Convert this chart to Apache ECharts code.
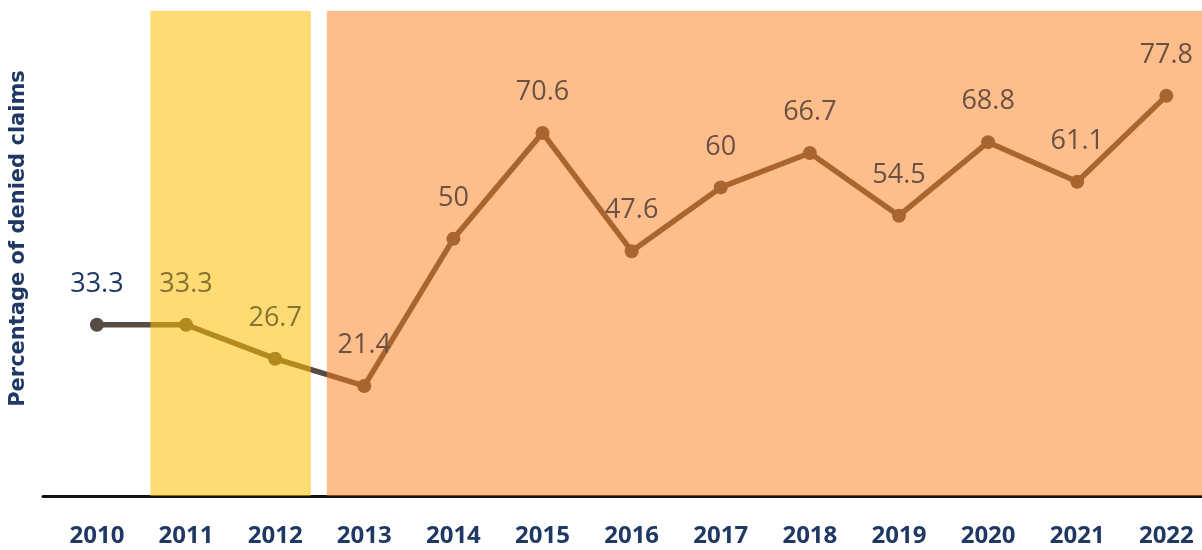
<!DOCTYPE html>
<html>
<head>
<meta charset="utf-8">
<script src="https://cdn.jsdelivr.net/npm/echarts@6/dist/echarts.min.js"></script>
<style>
  html, body { margin: 0; padding: 0; background: #ffffff; }
  #chart { width: 1202px; height: 550px; }
</style>
</head>
<body>
<div id="chart"></div>
<script>
// Years on the horizontal axis
const years = ['2010', '2011', '2012', '2013', '2014', '2015', '2016',
               '2017', '2018', '2019', '2020', '2021', '2022'];
// Share of claims that were denied, per year (%)
const deniedPct = [33.3, 33.3, 26.7, 21.4, 50, 70.6, 47.6, 60, 66.7, 54.5, 68.8, 61.1, 77.8];
// Shaded periods, expressed in year-index units along the x axis
const periodEarly = [0.6, 2.4];
const periodLate = [2.58, 12.4];

const navy = '#1F3864';
const points = deniedPct.map((v, i) => [i, v]);

function labelColor(i) {
  if (i < periodEarly[0]) return navy;
  if (i <= periodEarly[1]) return '#857433';
  return '#6A5142';
}

const chart = echarts.init(document.getElementById('chart'), null, { renderer: 'canvas' });

chart.setOption({
  animation: false,
  backgroundColor: '#ffffff',
  grid: { left: 42, right: 0, top: 11, bottom: 54, containLabel: false },
  xAxis: {
    type: 'value',
    min: -0.605,
    max: periodLate[1],
    axisLine: { show: true, onZero: false, lineStyle: { color: '#111111', width: 3 } },
    axisTick: { show: false },
    splitLine: { show: false },
    axisLabel: {
      customValues: years.map((_, i) => i),
      formatter: v => years[Math.round(v)],
      margin: 28,
      color: navy,
      fontFamily: 'Open Sans',
      fontWeight: 'bold',
      fontSize: 24
    }
  },
  yAxis: {
    type: 'value',
    min: 0,
    max: 94.3,
    axisLine: { show: false },
    axisTick: { show: false },
    splitLine: { show: false },
    axisLabel: { show: false },
    name: 'Percentage of denied claims',
    nameLocation: 'middle',
    nameGap: 14,
    nameTextStyle: {
      color: navy,
      fontFamily: 'DejaVu Sans',
      fontWeight: 'bold',
      fontSize: 21,
      padding: [0, 0, 0, 30]
    }
  },
  series: [
    {
      // the trend line sits on the bottom layer, under the tinted periods
      name: 'Denied claims',
      type: 'line',
      zlevel: 0,
      data: points,
      symbol: 'circle',
      symbolSize: 14,
      lineStyle: { color: '#574C43', width: 5.5 },
      itemStyle: { color: '#574C43' },
      label: { show: false }
    },
    {
      name: 'Periods',
      type: 'line',
      zlevel: 1,
      data: [],
      markArea: {
        silent: true,
        zlevel: 1,
        z: 10,
        data: [
          [{ xAxis: periodEarly[0], itemStyle: { color: 'rgba(255,190,0,0.55)' } }, { xAxis: periodEarly[1] }],
          [{ xAxis: periodLate[0], itemStyle: { color: 'rgba(253,125,25,0.5)' } }, { xAxis: periodLate[1] }]
        ]
      }
    },
    {
      // value labels above each point, on top of everything
      name: 'Values',
      type: 'scatter',
      zlevel: 2,
      silent: true,
      symbolSize: 14,
      itemStyle: { color: 'rgba(0,0,0,0)', opacity: 1 },
      data: points.map((pt, i) => ({ value: pt, label: { color: labelColor(i) } })),
      label: {
        show: true,
        position: 'top',
        distance: 20,
        fontFamily: 'Open Sans',
        fontSize: 27,
        formatter: p => String(p.value[1])
      }
    }
  ]
});
</script>
</body>
</html>
